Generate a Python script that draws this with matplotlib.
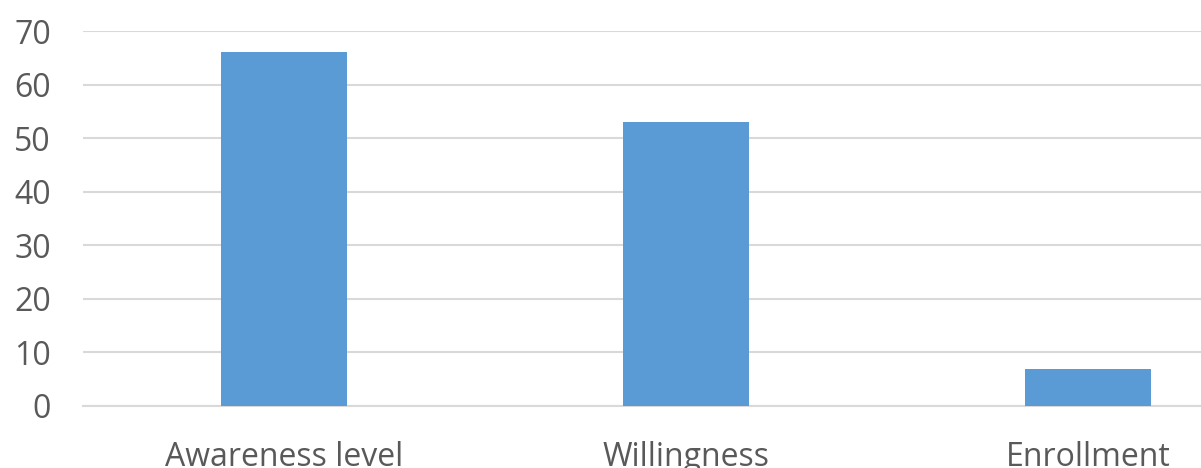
import matplotlib

matplotlib.use("Agg")
import matplotlib.pyplot as plt

categories = ["Awareness level", "Willingness", "Enrollment"]
values = [66, 53, 7]
y_ticks = [0, 10, 20, 30, 40, 50, 60, 70]

plt.rcParams["font.family"] = ["Open Sans", "DejaVu Sans"]

W, H = 1201, 468
fig = plt.figure(figsize=(W / 100, H / 100), dpi=100)
# plot area runs past the right edge, as in the reference
ax = fig.add_axes([83 / W, 62 / H, 1206 / W, 375 / H])

x = range(len(categories))
ax.bar(x, values, width=0.313, color="#5B9BD5", zorder=3)

ax.set_xlim(-0.5, len(categories) - 0.5)
ax.set_ylim(0, 70)
ax.set_yticks(y_ticks)
ax.set_xticks(list(x))
ax.set_xticklabels(categories)

ax.grid(axis="y", color="#D9D9D9", linewidth=1.5, zorder=0)
for s in ["top", "right", "left"]:
    ax.spines[s].set_visible(False)
ax.spines["bottom"].set_color("#D9D9D9")
ax.spines["bottom"].set_linewidth(1.5)
ax.tick_params(axis="both", length=0, labelsize=23, colors="#595959")
ax.tick_params(axis="y", pad=23)
ax.tick_params(axis="x", pad=25)

fig.savefig("out.png", dpi=100)
